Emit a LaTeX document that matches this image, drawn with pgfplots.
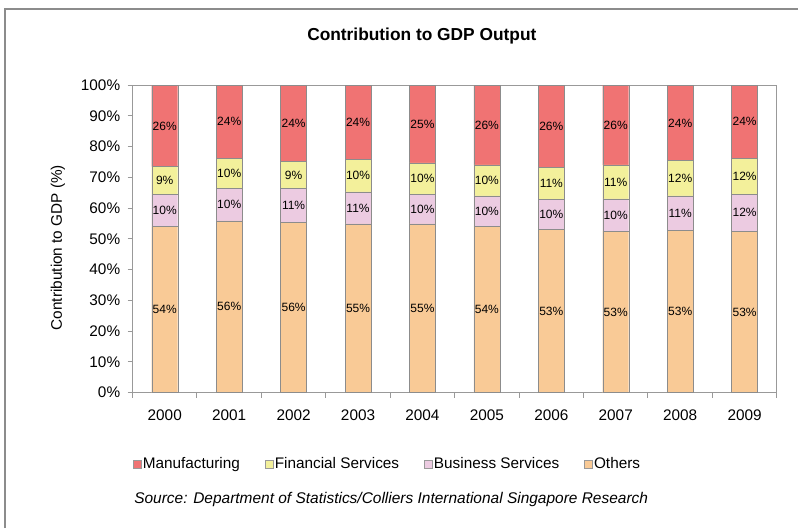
\documentclass[border=0pt]{standalone}
\usepackage{pgfplots}
\pgfplotsset{compat=1.18}
\usepackage{pgfplotstable}
\usepackage{fontspec}
\setmainfont{Liberation Sans}
\definecolor{manu}{HTML}{F07373}
\definecolor{fin}{HTML}{F3F09B}
\definecolor{bus}{HTML}{ECCBE1}
\definecolor{oth}{HTML}{F9CA96}
\definecolor{axgray}{HTML}{999999}
\definecolor{framegray}{HTML}{8C8C8C}
\newcommand\fs{\fontsize{11.5}{13.5}\selectfont}
\pgfplotstableread{
x others oL bus bL fin fL man mL
0 54.0 54 10.4 10 9.1 9 26.5 26
1 55.9 56 10.5 10 9.8 10 23.8 24
2 55.4 56 11.0 11 8.8 9 24.8 24
3 54.9 55 10.4 11 10.6 10 24.1 24
4 54.9 55 9.5 10 10.3 10 25.3 25
5 54.2 54 9.8 10 10.1 10 25.9 26
6 53.1 53 9.8 10 10.4 11 26.7 26
7 52.5 53 10.5 10 11.1 11 25.9 26
8 52.8 53 11.2 11 11.5 12 24.5 24
9 52.5 53 12.0 12 11.7 12 23.8 24
}\gdp
\begin{document}
\begin{tikzpicture}
\useasboundingbox (0,0) rectangle (598.5pt,396pt);
\draw[framegray, line width=1.5pt] (4.1pt,0pt) -- (4.1pt,389.25pt) -- (598.5pt,389.25pt);
\begin{axis}[
  at={(99.4pt,101.5pt)}, anchor=south west,
  scale only axis, width=483.2pt, height=230.6pt,
  ybar stacked, bar width=19.5pt,
  xmin=-0.5, xmax=9.5, ymin=0, ymax=100,
  xtick={-0.5,0.5,...,9.5}, xticklabels={},
  extra x ticks={0,1,...,9},
  extra x tick labels={2000,2001,2002,2003,2004,2005,2006,2007,2008,2009},
  extra x tick style={major tick length=0pt},
  ytick={0,10,...,100},
  yticklabels={0\%,10\%,20\%,30\%,40\%,50\%,60\%,70\%,80\%,90\%,100\%},
  /pgf/number format/assume math mode=true,
  tick pos=left, tick align=outside, major tick length=3.75pt,
  tick style={axgray, line width=0.75pt},
  axis line style={axgray, line width=0.75pt},
  tick label style={font=\fs, black},
  xticklabel style={yshift=-9pt},
  yticklabel style={xshift=-2pt},
  ylabel={Contribution to GDP (\%)},
  every axis y label/.style={at={(axis description cs:-0.1157,0.472)}, rotate=90, anchor=center, font=\fs},
  title={\textbf{Contribution to GDP Output}},
  title style={at={(axis description cs:0.449,1.1204)}, anchor=base, font=\fontsize{13}{15}\selectfont},
  point meta=explicit symbolic,
  nodes near coords={\pgfplotspointmeta\%},
  nodes near coords align={anchor=center},
  every node near coord/.append style={font=\fontsize{9}{10}\selectfont, black, anchor=center},
  legend style={at={(0,-0.232)}, anchor=west, draw=none, fill=none, inner sep=0pt,
    font=\fs, nodes={inner sep=1.2pt},
    /tikz/every even column/.append style={column sep=17.4pt}},
  legend columns=4,
  legend image code/.code={\draw[#1,draw=axgray] (0pt,-3pt) rectangle (6pt,3pt);},
  reverse legend,
]
\addplot[fill=oth, draw=black!45, line width=0.3pt] table[x=x, y=others, meta=oL] {\gdp};
\addplot[fill=bus, draw=black!45, line width=0.3pt] table[x=x, y=bus, meta=bL] {\gdp};
\addplot[fill=fin, draw=black!45, line width=0.3pt] table[x=x, y=fin, meta=fL] {\gdp};
\addplot[fill=manu, draw=black!45, line width=0.3pt] table[x=x, y=man, meta=mL] {\gdp};
\legend{Others, Business Services, Financial Services, Manufacturing}
\end{axis}
\node[anchor=base west, inner sep=0pt, font=\fontsize{11.6}{13.5}\selectfont\itshape] at (100.5pt,18.75pt) {Source: Department of Statistics/Colliers International Singapore Research};
\end{tikzpicture}
\end{document}
